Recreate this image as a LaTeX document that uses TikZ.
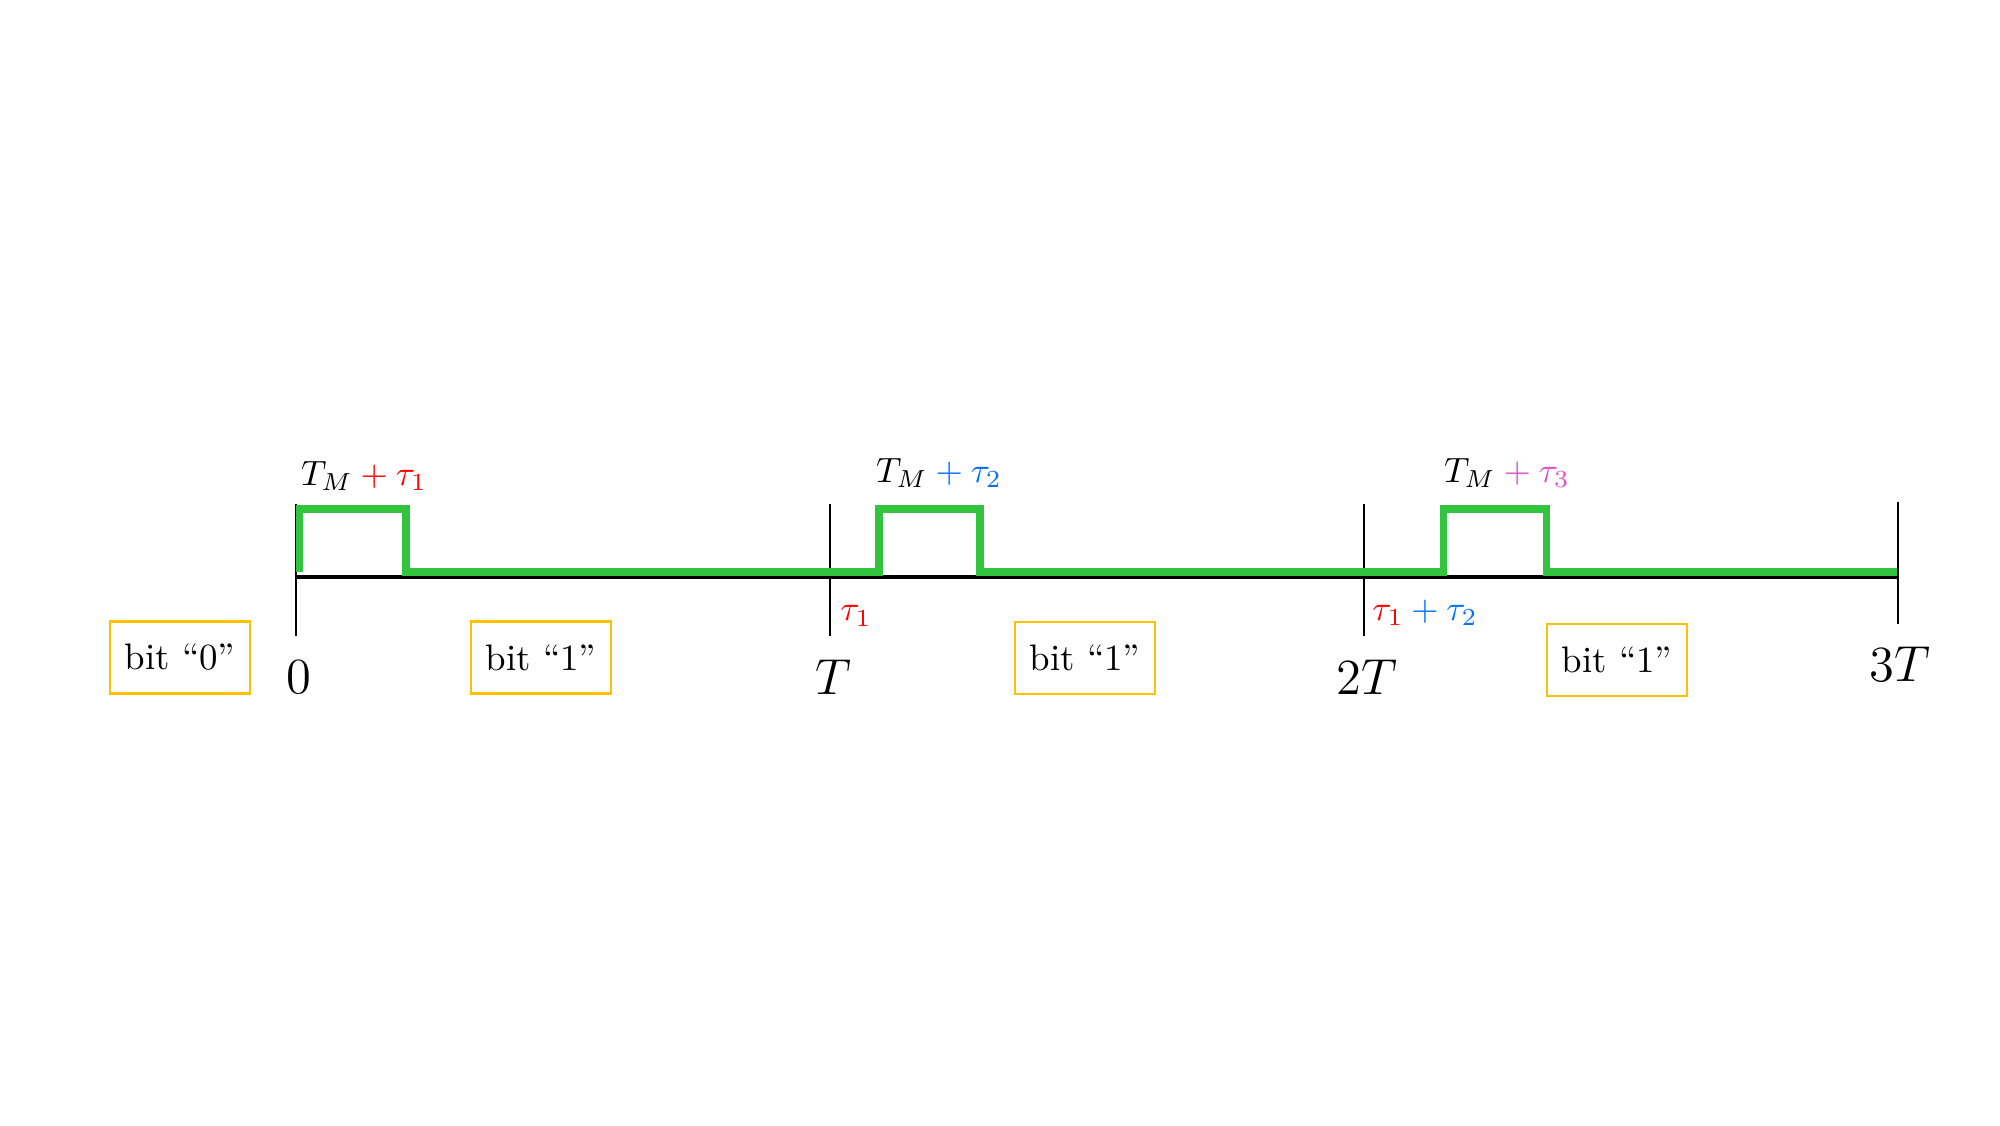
\documentclass[tikz,border=0pt]{standalone}
\usepackage{amsmath}
\usepackage{tikz}
\usetikzlibrary{positioning}
\usepackage{xcolor}
\definecolor{pulsegreen}{RGB}{51,196,63}
\definecolor{boxgold}{RGB}{255,192,0}
\definecolor{taured}{RGB}{255,0,0}
\definecolor{taublue}{RGB}{0,112,255}
\definecolor{taupink}{RGB}{226,80,204}

\begin{document}
\begin{tikzpicture}[
    ticklbl/.style={font=\fontsize{13.5}{16}\selectfont},
    tickline/.style={draw=black, line width=0.8pt},
    axisline/.style={draw=black, line width=0.9pt},
    wave/.style={draw=pulsegreen, line width=2pt},
    delaylbl/.style={font=\fontsize{10}{12}\selectfont, inner sep=0pt},
    bitbox/.style={draw=boxgold, line width=0.6pt, minimum width=1.4cm, minimum height=0.72cm, inner sep=0pt, font=\fontsize{10.5}{12}\selectfont}
  ]
  \useasboundingbox (0,0) rectangle (20,11.25);

  % Time axis: ticks at 0, T, 2T
  \foreach \lbl [count=\i from 0] in {0, T, 2T} {
      \coordinate (t\i) at (2.96 + \i*5.34, 5.48);
      \draw[tickline] (2.96 + \i*5.34, 6.21) -- (2.96 + \i*5.34, 4.89);
      \node[ticklbl] (lbl\i) at (2.99 + \i*5.34, 4.48) {$\lbl$};
    }
  % last tick (a bit shorter)
  \coordinate (t3) at (18.98, 5.48);
  \draw[tickline] (18.98, 6.23) -- (18.98, 5.01);
  \node[ticklbl] (lbl3) at (19.0, 4.61) {$3T$};
  \draw[axisline] (t0) -- (t3);

  % Received pulses
  \draw[wave] (2.995, 5.53) -- (2.995, 6.16) -- (4.06, 6.16) -- (4.06, 5.53)
    -- (8.79, 5.53) -- (8.79, 6.16) -- (9.80, 6.16) -- (9.80, 5.53)
    -- (14.43, 5.53) -- (14.43, 6.16) -- (15.46, 6.16) -- (15.46, 5.53)
    -- (18.97, 5.53);

  % Pulse widths
  \node[delaylbl] (w1) at (3.64, 6.49) {$T_M\textcolor{taured}{{}+\tau_1}$};
  \node[delaylbl] (w2) at (9.39, 6.52) {$T_M\textcolor{taublue}{{}+\tau_2}$};
  \node[delaylbl] (w3) at (15.07, 6.52) {$T_M\textcolor{taupink}{{}+\tau_3}$};

  % Delays
  \node[delaylbl] (d1) at (8.56, 5.09) {$\textcolor{taured}{\tau_1}$};
  \node[delaylbl] (d2) at (14.25, 5.12) {$\textcolor{taured}{\tau_1}\textcolor{taublue}{{}+\tau_2}$};

  % Bits
  \node[bitbox] (b0) at (1.80, 4.675) {bit “0”};
  \node[bitbox] (b1) at (5.41, 4.675) {bit “1”};
  \node[bitbox] (b2) at (10.85, 4.67) {bit “1”};
  \node[bitbox] (b3) at (16.17, 4.65) {bit “1”};
\end{tikzpicture}
\end{document}
